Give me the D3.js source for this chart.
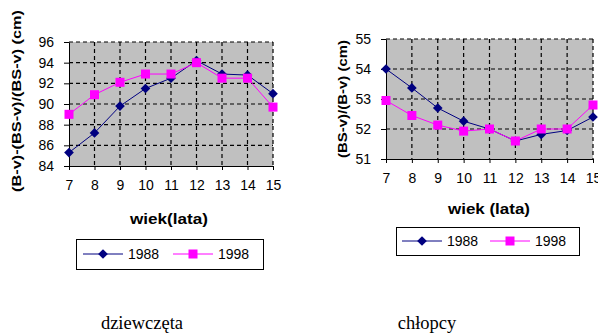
<!DOCTYPE html>
<html>
<head>
<meta charset="utf-8">
<script src="https://cdn.jsdelivr.net/npm/d3@7/dist/d3.min.js"></script>
<style>
  html, body { margin: 0; padding: 0; background: #fff; }
  svg { display: block; }
</style>
</head>
<body>
<svg id="chart" width="598" height="336"></svg>
<script>
// Ages on the category axis
const ages = ["7", "8", "9", "10", "11", "12", "13", "14", "15"];

// Girls: (B-v)-(BS-v)/(BS-v)
const girls1988 = [85.3, 87.2, 89.8, 91.5, 92.5, 94.2, 92.9, 92.8, 91.0];
const girls1998 = [89.0, 90.9, 92.1, 92.9, 92.9, 94.0, 92.5, 92.5, 89.7];
const girlsTicks = [84, 86, 88, 90, 92, 94, 96];

// Boys: (BS-v)/(B-v)
const boys1988 = [54.0, 53.37, 52.7, 52.26, 52.0, 51.6, 51.82, 51.95, 52.4];
const boys1998 = [52.95, 52.45, 52.13, 51.93, 52.0, 51.6, 52.0, 52.0, 52.8];
const boysTicks = [51, 52, 53, 54, 55];

const seriesNames = ["1988", "1998"];
const colors = { "1988": "#000080", "1998": "#FF00FF" };

const svg = d3.select("#chart");
const sans = "'Liberation Sans', Arial, sans-serif";

function diamond(g, x, y, c) {
  g.append("path")
    .attr("d", d3.symbol(d3.symbolDiamond2 || d3.symbolDiamond, 60)())
    .attr("transform", `translate(${x},${y})`)
    .attr("fill", c);
}
function square(g, x, y, c) {
  g.append("rect").attr("x", x - 4.5).attr("y", y - 4.5)
    .attr("width", 9).attr("height", 9).attr("fill", c);
}

function drawPanel(cfg) {
  const g = svg.append("g");
  const x = d3.scalePoint().domain(ages).range([cfg.left, cfg.right]).padding(0);
  const y = d3.scaleLinear().domain(cfg.yDomain).range([cfg.bottom, cfg.top]);

  // plot area
  g.append("rect")
    .attr("x", cfg.left).attr("y", cfg.top)
    .attr("width", cfg.right - cfg.left).attr("height", cfg.bottom - cfg.top)
    .attr("fill", "#C0C0C0");

  // dashed grid
  g.append("g").selectAll("line").data(cfg.ticks.slice(1)).join("line")
    .attr("x1", cfg.left).attr("x2", cfg.right)
    .attr("y1", d => y(d)).attr("y2", d => y(d))
    .attr("stroke", "#000").attr("stroke-width", 1.2).attr("stroke-dasharray", "4,3");
  g.append("g").selectAll("line").data(ages.slice(1)).join("line")
    .attr("x1", d => x(d)).attr("x2", d => x(d))
    .attr("y1", cfg.top).attr("y2", cfg.bottom)
    .attr("stroke", "#000").attr("stroke-width", 1.2).attr("stroke-dasharray", "4,3");

  // y axis
  const yAxis = d3.axisLeft(y).tickValues(cfg.ticks).tickFormat(d3.format("d"))
    .tickSize(5).tickPadding(cfg.yPad).tickSizeOuter(0);
  const ya = g.append("g").attr("transform", `translate(${cfg.left},0)`).call(yAxis);
  ya.selectAll("text").attr("font-family", sans).attr("font-size", cfg.tickFont).attr("fill", "#000");
  ya.selectAll("line,path").attr("stroke", "#000");

  // x axis
  const xAxis = d3.axisBottom(x).tickSize(4).tickPadding(cfg.xPad).tickSizeOuter(0);
  const xa = g.append("g").attr("transform", `translate(0,${cfg.bottom})`).call(xAxis);
  xa.selectAll("text").attr("font-family", sans).attr("font-size", cfg.tickFont).attr("fill", "#000");
  xa.selectAll("line,path").attr("stroke", "#000");

  // series
  const line = d3.line().x((d, i) => x(ages[i])).y(d => y(d));
  [[cfg.s1988, "1988"], [cfg.s1998, "1998"]].forEach(([vals, name]) => {
    g.append("path").datum(vals).attr("d", line)
      .attr("fill", "none").attr("stroke", colors[name]).attr("stroke-width", 1);
  });
  cfg.s1988.forEach((v, i) => diamond(g, x(ages[i]), y(v), colors["1988"]));
  cfg.s1998.forEach((v, i) => square(g, x(ages[i]), y(v), colors["1998"]));

  // axis titles
  g.append("text")
    .attr("transform", `translate(${cfg.yTitleX},${cfg.yTitleY}) rotate(-90)`)
    .attr("text-anchor", "middle").attr("dominant-baseline", "central")
    .attr("font-family", sans).attr("font-weight", "bold").attr("font-size", 13)
    .attr("textLength", cfg.yTitleLen).attr("lengthAdjust", "spacingAndGlyphs")
    .text(cfg.yTitle);
  g.append("text")
    .attr("x", cfg.xTitleX).attr("y", cfg.xTitleY)
    .attr("text-anchor", "middle").attr("dominant-baseline", "central")
    .attr("font-family", sans).attr("font-weight", "bold").attr("font-size", 15)
    .attr("textLength", cfg.xTitleLen).attr("lengthAdjust", "spacingAndGlyphs")
    .text(cfg.xTitle);

  // legend
  const L = cfg.legend;
  g.append("rect").attr("x", L.x + 0.5).attr("y", L.y + 0.5)
    .attr("width", L.w).attr("height", L.h)
    .attr("fill", "#fff").attr("stroke", "#000").attr("stroke-width", 1);
  const cy = L.y + L.h / 2;
  seriesNames.forEach((name, k) => {
    const x0 = L.x + L.items[k];
    g.append("line").attr("x1", x0).attr("x2", x0 + 40).attr("y1", cy).attr("y2", cy)
      .attr("stroke", colors[name]).attr("stroke-width", 1);
    if (name === "1988") diamond(g, x0 + 20, cy, colors[name]);
    else square(g, x0 + 20, cy, colors[name]);
    g.append("text").attr("x", x0 + 45).attr("y", cy)
      .attr("dominant-baseline", "central")
      .attr("font-family", sans).attr("font-size", 14).text(name);
  });

  // caption
  g.append("text")
    .attr("x", cfg.captionX).attr("y", 323)
    .attr("text-anchor", "middle").attr("dominant-baseline", "central")
    .attr("font-family", "'Liberation Serif', 'Times New Roman', serif")
    .attr("font-size", 18.5).text(cfg.caption);
}

drawPanel({
  left: 69, right: 273, top: 42, bottom: 166,
  yDomain: [84, 96], ticks: girlsTicks, yPad: 10, xPad: 10, tickFont: 14,
  s1988: girls1988, s1998: girls1998,
  yTitle: "(B-v)-(BS-v)/(BS-v) (cm)", yTitleX: 16, yTitleY: 101, yTitleLen: 182,
  xTitle: "wiek(lata)", xTitleX: 169, xTitleY: 218, xTitleLen: 78,
  legend: { x: 76, y: 239, w: 187, h: 30, items: [7, 97] },
  caption: "dziewczęta", captionX: 142
});

drawPanel({
  left: 386, right: 593, top: 39, bottom: 159,
  yDomain: [51, 55], ticks: boysTicks, yPad: 10, xPad: 10, tickFont: 14,
  s1988: boys1988, s1998: boys1998,
  yTitle: "(BS-v)/(B-v) (cm)", yTitleX: 342, yTitleY: 99, yTitleLen: 118,
  xTitle: "wiek (lata)", xTitleX: 489, xTitleY: 208, xTitleLen: 82,
  legend: { x: 396, y: 227, w: 183, h: 28, items: [6, 94] },
  caption: "chłopcy", captionX: 427
});
</script>
</body>
</html>
